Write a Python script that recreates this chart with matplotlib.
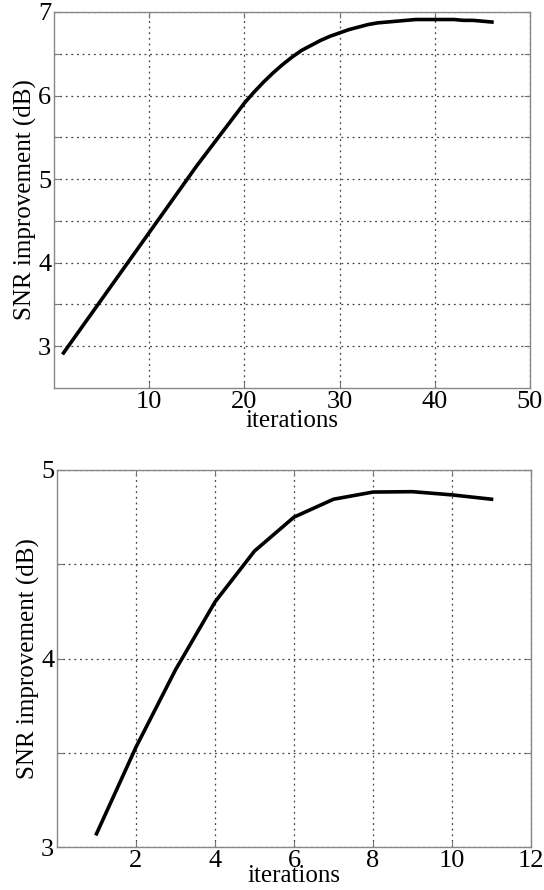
import numpy as np
import matplotlib.pyplot as plt

plt.rcParams['font.family'] = ['Liberation Serif', 'DejaVu Serif']

# top panel: SNR improvement per iteration
iters_a = np.arange(1, 47)
snr_a = [2.92, 3.08, 3.24, 3.40, 3.56, 3.72, 3.88, 4.04, 4.20, 4.36,
         4.52, 4.68, 4.84, 5.00, 5.16, 5.31, 5.46, 5.61, 5.76, 5.91,
         6.04, 6.16, 6.27, 6.37, 6.46, 6.54, 6.60, 6.66, 6.71, 6.75,
         6.79, 6.82, 6.85, 6.87, 6.88, 6.89, 6.90, 6.91, 6.91, 6.91,
         6.91, 6.91, 6.90, 6.90, 6.89, 6.88]

# bottom panel
iters_b = np.arange(1, 12)
snr_b = [3.07, 3.53, 3.94, 4.30, 4.57, 4.75, 4.845, 4.883, 4.885, 4.868, 4.845]

xticks_a = [10, 20, 30, 40, 50]
yticks_a = [3, 3.5, 4, 4.5, 5, 5.5, 6, 6.5, 7]
xticks_b = [2, 4, 6, 8, 10, 12]
yticks_b = [3, 3.5, 4, 4.5, 5]

W, H = 544, 890
fig = plt.figure(figsize=(W / 100, H / 100), dpi=100)

def make_axes(l, r, t, b):
    return fig.add_axes([l / W, 1 - b / H, (r - l) / W, (b - t) / H])

def style(ax, xt, yt, xpad):
    ax.set_xticks(xt)
    ax.set_yticks(yt)
    ax.set_yticklabels([str(int(v)) if v == int(v) else '' for v in yt])
    ax.grid(True, color='#444444', linestyle=(0, (1.5, 3)), linewidth=0.9)
    ax.tick_params(direction='in', length=4, colors='#777777', labelcolor='black',
                   labelsize=19, top=True, right=True, pad=2)
    for s in ax.spines.values():
        s.set_color('#888888')
        s.set_linewidth(1.0)
    ax.set_xlabel('iterations', fontsize=18, labelpad=xpad)
    ax.set_ylabel('SNR improvement (dB)', fontsize=18, labelpad=1)

ax1 = make_axes(54, 530, 12, 388)
ax1.plot(iters_a, snr_a, color='black', linewidth=2.6)
ax1.set_xlim(0, 50)
ax1.set_ylim(2.5, 7)
style(ax1, xticks_a, yticks_a, -2)

ax2 = make_axes(57, 531, 470, 847)
ax2.plot(iters_b, snr_b, color='black', linewidth=2.6)
ax2.set_xlim(0, 12)
ax2.set_ylim(3, 5)
style(ax2, xticks_b, yticks_b, -5)

fig.savefig('out.png', dpi=100)
